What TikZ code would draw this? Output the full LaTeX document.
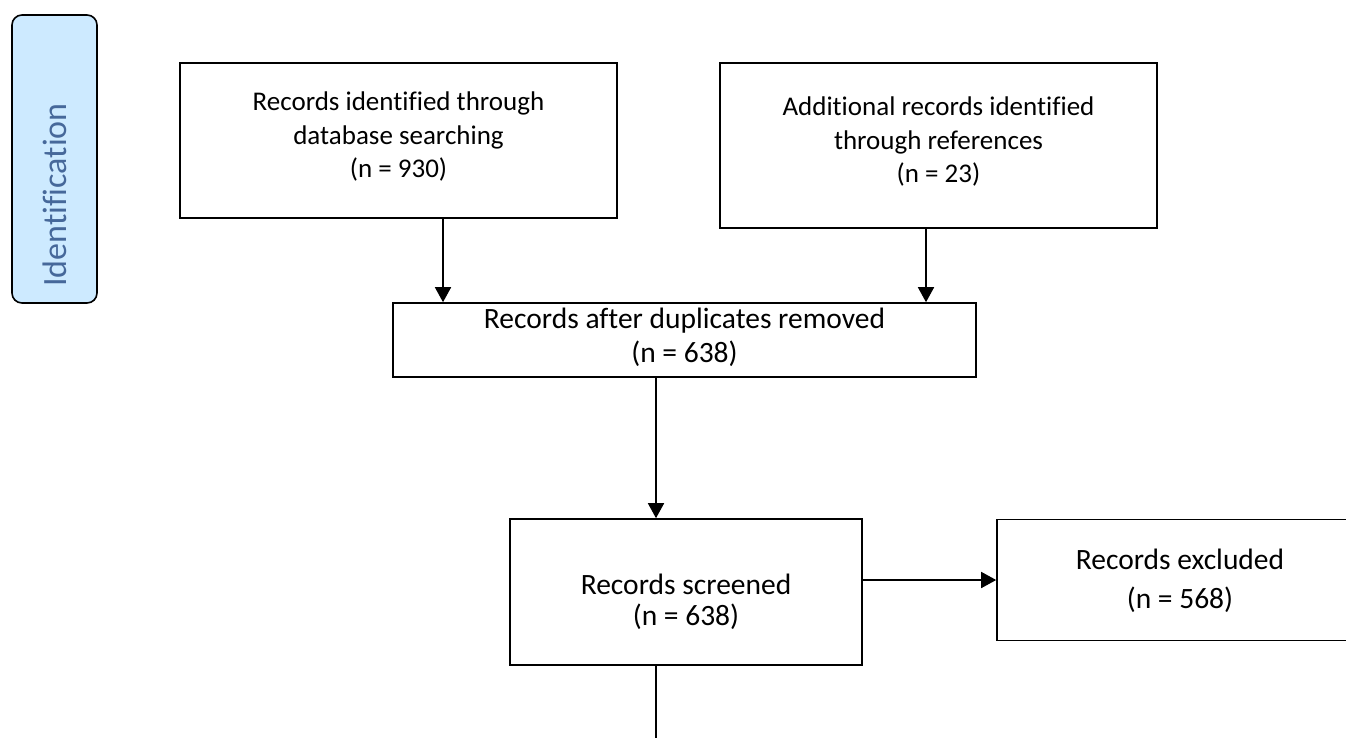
\documentclass[tikz,border=0pt]{standalone}
\usepackage{fontspec}
\setmainfont{Carlito}[Ligatures=NoCommon]
\usetikzlibrary{arrows.meta}
\definecolor{tabfill}{RGB}{205,234,255}
\definecolor{tabtext}{RGB}{70,104,154}
\tikzset{
  box/.style={draw=black, line width=1.6pt, fill=white, inner sep=0pt},
  txt/.style={inner sep=0pt, align=center},
  small/.style={font=\fontsize{27}{33.5}\selectfont},
  big/.style={font=\fontsize{29.5}{34}\selectfont},
  tab/.style={draw=black, line width=1.6pt, fill=tabfill, rounded corners=10pt, inner sep=0pt},
  arr/.style={line width=1.6pt, -{Triangle[width=16pt,length=15pt]}},
  ln/.style={line width=1.6pt}
}
\begin{document}
\begin{tikzpicture}[x=1pt,y=-1pt]
\clip (0,0) rectangle (1346,737);
\fill[white] (0,0) rectangle (1346,737);
% tab
\node[tab, minimum width=85pt, minimum height=288pt] (tab) at (54.5,159) {};
\node[rotate=90, text=tabtext, font=\fontsize{34}{40}\selectfont, inner sep=0pt] (tabl) at (55,195) {Identification};
% boxes
\node[box, minimum width=437pt, minimum height=155pt] (b1) at (398.5,140.5) {};
\node[box, minimum width=437pt, minimum height=165pt] (b2) at (938.5,145.5) {};
\node[box, minimum width=583pt, minimum height=74pt] (b3) at (684.5,340) {};
\node[box, minimum width=352pt, minimum height=146pt] (b4) at (686,592) {};
\node[box, minimum width=366pt, minimum height=121pt] (b5) at (1180,580) {};
% texts
\node[txt, small] (t1) at ([yshift=4pt]b1.center) {Records identified through\\database searching\\(n = 930)};
\node[txt, small] (t2) at ([yshift=4pt]b2.center) {Additional records identified\\through references\\(n = 23)};
\node[txt, big] (t3) at ([yshift=3pt]b3.center) {Records after duplicates removed\\(n = 638)};
\node[txt, big] (t4) at ([yshift=-10pt]b4.center) {Records screened\\[-3pt](n = 638)};
\node[txt, big] (t5) at ([yshift=-1pt]b5.center) {Records excluded\\[5pt](n = 568)};
\coordinate (end) at (656,745);
% connectors
\draw[arr] (b1.south -| 443,0) -- (b3.north -| 443,0);
\draw[arr] (b2.south -| 926,0) -- (b3.north -| 926,0);
\draw[arr] (b3.south -| 656,0) -- (b4.north -| 656,0);
\draw[arr] (b4.east |- 0,580) -- (b5.west |- 0,580);
\draw[ln] (b4.south -| end) -- (end);
\end{tikzpicture}
\end{document}
